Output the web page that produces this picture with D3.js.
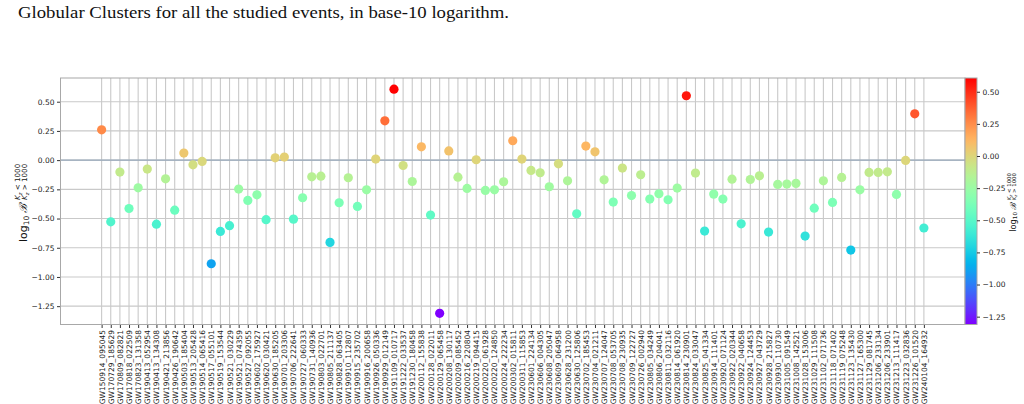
<!DOCTYPE html>
<html>
<head>
<meta charset="utf-8">
<script src="https://cdn.jsdelivr.net/npm/d3@7"></script>
<style>
  body { margin: 0; background: #fff; }
  svg { display: block; }
  .tick text { font-family: "DejaVu Sans", sans-serif; font-size: 7.5px; fill: #222; }
  .tick line { stroke: #333; }
</style>
</head>
<body>
<div id="chart"></div>
<script>
// events in plotting order
const events = [
    "GW150914_095045", "GW170729_185629", "GW170809_082821", "GW170818_022509", "GW170823_131358",
    "GW190413_052954", "GW190413_134308", "GW190421_213856", "GW190426_190642", "GW190503_185404",
    "GW190513_205428", "GW190514_065416", "GW190517_055101", "GW190519_153544", "GW190521_030229",
    "GW190521_074359", "GW190527_092055", "GW190602_175927", "GW190620_030421", "GW190630_185205",
    "GW190701_203306", "GW190706_222641", "GW190727_060333", "GW190731_140936", "GW190803_022701",
    "GW190805_211137", "GW190828_063405", "GW190910_112807", "GW190915_235702", "GW190916_200658",
    "GW190926_050336", "GW190929_012149", "GW191109_010717", "GW191222_033537", "GW191230_180458",
    "GW200112_155838", "GW200128_022011", "GW200129_065458", "GW200208_130117", "GW200209_085452",
    "GW200216_220804", "GW200219_094415", "GW200220_061928", "GW200220_124850", "GW200224_222234",
    "GW200302_015811", "GW200311_115853", "GW230601_224134", "GW230606_004305", "GW230608_205047",
    "GW230609_064958", "GW230628_231200", "GW230630_125806", "GW230702_185453", "GW230704_021211",
    "GW230707_124047", "GW230708_053705", "GW230708_230935", "GW230709_122727", "GW230726_002940",
    "GW230805_034249", "GW230806_204041", "GW230811_032116", "GW230814_061920", "GW230814_230901",
    "GW230824_033047", "GW230825_041334", "GW230914_111401", "GW230920_071124", "GW230922_020344",
    "GW230922_040658", "GW230924_124453", "GW230927_043729", "GW230928_215827", "GW230930_110730",
    "GW231005_091549", "GW231008_142521", "GW231028_153006", "GW231029_111508", "GW231102_071736",
    "GW231118_071402", "GW231119_075248", "GW231123_135430", "GW231127_165300", "GW231129_081745",
    "GW231206_233134", "GW231206_233901", "GW231213_111417", "GW231223_032836", "GW231226_101520",
    "GW240104_164932"
];

// log10 Bayes factor, one per event
const logBF = [
    0.259, -0.528, -0.102, -0.414, -0.237, -0.077, -0.548, -0.160, -0.428, 0.060,
    -0.040, -0.011, -0.887, -0.610, -0.561, -0.248, -0.345, -0.297, -0.510, 0.020,
    0.026, -0.505, -0.322, -0.143, -0.137, -0.704, -0.365, -0.151, -0.396, -0.254,
    0.009, 0.336, 0.607, -0.046, -0.183, 0.114, -0.470, -1.311, 0.079, -0.146,
    -0.242, 0.003, -0.259, -0.254, -0.185, 0.166, 0.009, -0.088, -0.108, -0.228,
    -0.032, -0.177, -0.459, 0.120, 0.071, -0.169, -0.359, -0.068, -0.303, -0.125,
    -0.333, -0.288, -0.339, -0.239, 0.551, -0.111, -0.607, -0.291, -0.333, -0.163,
    -0.545, -0.166, -0.134, -0.616, -0.208, -0.205, -0.199, -0.650, -0.411, -0.177,
    -0.362, -0.148, -0.770, -0.254, -0.105, -0.105, -0.100, -0.294, -0.003, 0.396,
    -0.581
];

const yTicks = [0.5, 0.25, 0, -0.25, -0.5, -0.75, -1.0, -1.25];
const titleText = "Globular Clusters for all the studied events, in base-10 logarithm.";

const width = 1024, height = 404;
const box = {left: 60.5, right: 965, top: 78, bottom: 324.5};
const cbar = {left: 965, right: 977};

// matplotlib "rainbow"
function rainbow(t) {
    const r = Math.min(1, Math.abs(2 * t - 0.5));
    const g = Math.sin(Math.PI * t);
    const b = Math.cos(Math.PI * t / 2);
    return d3.rgb(r * 255, g * 255, b * 255).formatHex();
}

const svg = d3.select("#chart").append("svg")
    .attr("width", width)
    .attr("height", height);

const n = events.length;
const [vmin, vmax] = d3.extent(logBF);
const pad = (vmax - vmin) * 0.05;

const x = d3.scaleLinear()
    .domain([-0.05 * (n - 1), 1.05 * (n - 1)])
    .range([box.left, box.right]);
const y = d3.scaleLinear()
    .domain([vmin - pad, vmax + pad])
    .range([box.bottom, box.top]);
const norm = d3.scaleLinear().domain([vmin, vmax]).range([0, 1]);

// title
svg.append("text")
    .attr("x", 18)
    .attr("y", 18)
    .attr("textLength", 491)
    .attr("lengthAdjust", "spacingAndGlyphs")
    .style("font-family", "'Liberation Serif', 'DejaVu Serif', serif")
    .style("font-size", "16px")
    .style("fill", "#111")
    .text(titleText);

// grid
const grid = svg.append("g");
grid.selectAll("line.v")
    .data(d3.range(n))
    .enter().append("line")
        .attr("x1", d => x(d)).attr("x2", d => x(d))
        .attr("y1", box.top).attr("y2", box.bottom)
        .style("stroke", "#c9c9c9")
        .style("stroke-width", 1.1);
grid.selectAll("line.h")
    .data(yTicks)
    .enter().append("line")
        .attr("x1", box.left).attr("x2", box.right)
        .attr("y1", d => y(d)).attr("y2", d => y(d))
        .style("stroke", "#c9c9c9")
        .style("stroke-width", 1.1);

// zero reference
svg.append("line")
    .attr("x1", box.left).attr("x2", box.right)
    .attr("y1", y(0)).attr("y2", y(0))
    .style("stroke", "#97a9bb")
    .style("stroke-width", 1.2);

// axes
const yAxis = svg.append("g")
    .attr("transform", `translate(${box.left},0)`)
    .call(d3.axisLeft(y).tickValues(yTicks).tickFormat(d3.format(".2f")).tickSize(3.5).tickPadding(2.5));
yAxis.select(".domain").remove();

const xAxis = svg.append("g")
    .attr("transform", `translate(0,${box.bottom})`)
    .call(d3.axisBottom(x).tickValues(d3.range(n)).tickFormat(i => events[i]).tickSize(3.5));
xAxis.select(".domain").remove();
xAxis.selectAll("text")
    .attr("transform", "rotate(-90)")
    .attr("text-anchor", "end")
    .attr("x", -5.5)
    .attr("y", 0)
    .attr("dy", "0.33em");

// frame
svg.append("rect")
    .attr("x", box.left).attr("y", box.top)
    .attr("width", box.right - box.left)
    .attr("height", box.bottom - box.top)
    .style("fill", "none")
    .style("stroke", "#a8a8a8")
    .style("stroke-width", 1);

// points
svg.append("g").selectAll("circle")
    .data(logBF)
    .enter().append("circle")
        .attr("cx", (d, i) => x(i))
        .attr("cy", d => y(d))
        .attr("r", 4.6)
        .attr("fill", d => rainbow(norm(d)));

// colorbar
const grad = svg.append("defs").append("linearGradient")
    .attr("id", "cbgrad")
    .attr("x1", 0).attr("y1", 1).attr("x2", 0).attr("y2", 0);
grad.selectAll("stop")
    .data(d3.range(0, 1.0001, 0.02))
    .enter().append("stop")
        .attr("offset", d => d)
        .attr("stop-color", d => rainbow(d));

svg.append("rect")
    .attr("x", cbar.left).attr("y", box.top)
    .attr("width", cbar.right - cbar.left)
    .attr("height", box.bottom - box.top)
    .style("fill", "url(#cbgrad)")
    .style("stroke", "#a8a8a8")
    .style("stroke-width", 1);

const cy = d3.scaleLinear().domain([vmin, vmax]).range([box.bottom, box.top]);
const cAxis = svg.append("g")
    .attr("transform", `translate(${cbar.right},0)`)
    .call(d3.axisRight(cy).tickValues(yTicks).tickFormat(d3.format(".2f")).tickSize(3).tickPadding(2.5));
cAxis.select(".domain").remove();

// log10 B label with stacked scripts
function bfLabel(cx, cy0, s) {
    const g = svg.append("g")
        .attr("transform", `translate(${cx},${cy0}) rotate(-90)`)
        .style("font-family", "'DejaVu Sans', sans-serif")
        .style("fill", "#111");
    const main = g.append("text")
        .attr("x", -41 * s)
        .attr("y", 0)
        .style("font-size", (11 * s) + "px");
    main.append("tspan").text("log");
    main.append("tspan").attr("dy", 2.5 * s).style("font-size", (7.5 * s) + "px").text("10");
    main.append("tspan").attr("dy", -2.5 * s).attr("dx", 2.5 * s)
        .style("font-family", "'DejaVu Serif', serif").style("font-style", "italic").text("ℬ");
    const scripts = [["<", -6.5], [">", 0.8]];
    scripts.forEach(([op, dy]) => {
        const t = g.append("text")
            .attr("x", 1 * s)
            .attr("y", dy * s)
            .style("font-size", (7.2 * s) + "px");
        t.append("tspan").style("font-style", "italic").text("K");
        t.append("tspan").attr("dy", 1.6 * s).style("font-size", (5 * s) + "px").style("font-style", "italic").text("z");
        t.append("tspan").attr("dy", -1.6 * s).text(` ${op} 1000`);
    });
}
bfLabel(26.5, 201, 1);
bfLabel(1015.5, 201, 0.75);
</script>
</body>
</html>
